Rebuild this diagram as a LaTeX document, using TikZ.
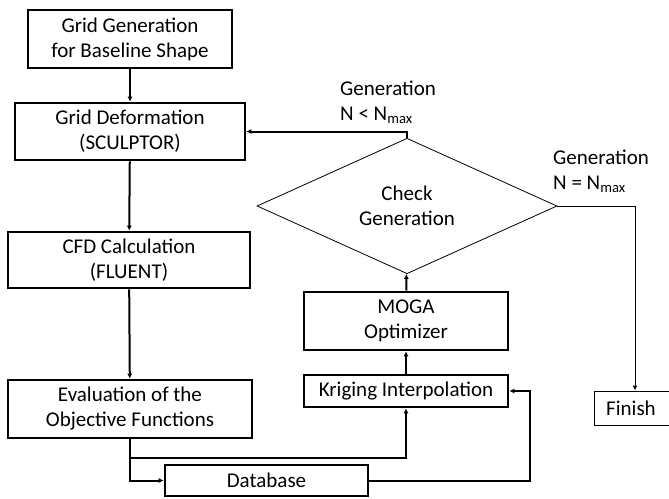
\documentclass[tikz,border=0pt]{standalone}
\usepackage{fontspec}
\setmainfont{Carlito}
\usetikzlibrary{shapes.geometric,arrows.meta}
\begin{document}
\begin{tikzpicture}[x=1pt,y=-1pt,
  font=\fontsize{21}{25}\selectfont,
  boxthick/.style={draw, line width=2.6pt, align=center, inner sep=0pt},
  boxthin/.style={draw, line width=1pt, align=center, inner sep=0pt},
  conn/.style={line width=2pt, -{Latex[length=5pt,width=5pt]}},
  connthin/.style={line width=1pt, -{Latex[length=5pt,width=5pt]}},
  lbl/.style={align=left, inner sep=0pt, anchor=north west}]
\useasboundingbox (0,0) rectangle (669,498);
\node[boxthick, minimum width=204, minimum height=58] (b1) at (130,39) {Grid Generation\\for Baseline Shape};
\node[boxthick, minimum width=230, minimum height=57] (b2) at (130,131.5) {Grid Deformation\\(SCULPTOR)};
\node[boxthick, minimum width=242, minimum height=56] (b3) at (129,260) {CFD Calculation\\(FLUENT)};
\node[boxthick, minimum width=244, minimum height=58] (b4) at (130,409) {Evaluation of the\\Objective Functions};
\node[boxthick, minimum width=203, minimum height=31] (db) at (266.5,480.5) {Database};
\node[boxthick, minimum width=204, minimum height=32] (kr) at (406,391) {Kriging Interpolation};
\node[boxthick, minimum width=204, minimum height=58] (mo) at (406,321) {MOGA\\Optimizer};
\node[draw, diamond, line width=0.8pt, minimum width=300, minimum height=114, inner sep=0pt, align=center] (dia) at (407,206) {Check\\Generation};
\node[boxthin, minimum width=82, minimum height=34] (fin) at (635,408) {\hspace*{-8pt}Finish};
\node[lbl] (l1) at (340,81) {Generation\\N < N\textsubscript{max}};
\node[lbl] (l2) at (553,150) {Generation\\N = N\textsubscript{max}};
\draw[conn] (b1) -- (b2);
\draw[conn] (b2) -- (b3);
\draw[conn] (b3) -- (b4);
\draw[conn] (b4.south) -- ++(0,19) -| (kr.south);
\draw[conn] (b4.south) |- (db.west);
\draw[conn] (db.east) -- ++(161,0) |- (kr.east);
\draw[conn] (kr) -- (mo);
\draw[conn] (mo) -- (dia);
\draw[conn] (dia.north) |- (b2.east);
\draw[connthin] (dia.east) -| (fin.north);
\end{tikzpicture}
\end{document}
